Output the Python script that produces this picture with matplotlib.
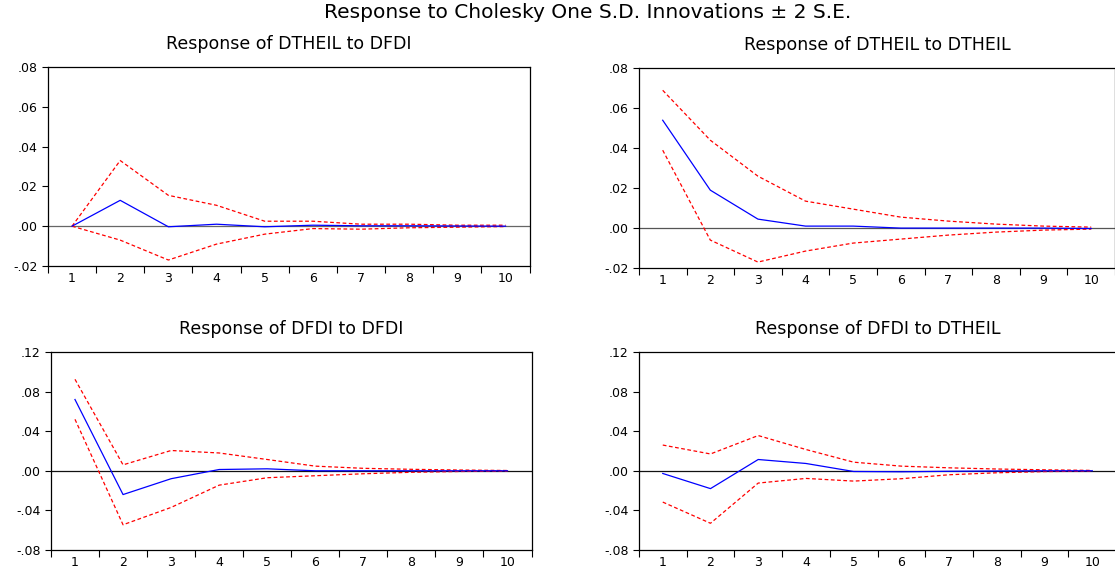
import matplotlib.pyplot as plt
import numpy as np

plt.rcParams['font.family'] = ['DejaVu Sans']

periods = np.arange(1, 11)

# Response of DTHEIL to DFDI
r1 = [0.0, 0.013, -0.0003, 0.001, -0.0003, 0.0005, 0.0002, 0.0002, 0.0001, 0.0]
u1 = [0.0, 0.033, 0.0155, 0.0105, 0.0025, 0.0025, 0.001, 0.001, 0.0005, 0.0005]
l1 = [0.0, -0.007, -0.017, -0.009, -0.004, -0.0012, -0.0015, -0.0008, -0.0005, -0.0002]

# Response of DTHEIL to DTHEIL
r2 = [0.054, 0.019, 0.0045, 0.001, 0.001, 0.0, 0.0, 0.0, 0.0, -0.0002]
u2 = [0.069, 0.044, 0.026, 0.0135, 0.0095, 0.0055, 0.0035, 0.002, 0.001, 0.0005]
l2 = [0.039, -0.006, -0.017, -0.0115, -0.0075, -0.0055, -0.0035, -0.002, -0.001, -0.0005]

# Response of DFDI to DFDI
r3 = [0.072, -0.024, -0.008, 0.0013, 0.002, 0.0, 0.0, 0.0, 0.0, 0.0]
u3 = [0.0924, 0.006, 0.0205, 0.018, 0.0114, 0.0047, 0.0025, 0.0015, 0.0008, 0.0003]
l3 = [0.052, -0.0545, -0.037, -0.0145, -0.007, -0.005, -0.003, -0.0015, -0.0007, -0.0003]

# Response of DFDI to DTHEIL
r4 = [-0.0027, -0.018, 0.0114, 0.0074, -0.0007, -0.001, -0.0005, -0.0002, 0.0, 0.0]
u4 = [0.026, 0.017, 0.0356, 0.0215, 0.0087, 0.0047, 0.003, 0.0018, 0.001, 0.0004]
l4 = [-0.0316, -0.053, -0.0124, -0.0077, -0.0104, -0.008, -0.004, -0.002, -0.0008, -0.0003]

titles = ['Response of DTHEIL to DFDI', 'Response of DTHEIL to DTHEIL',
          'Response of DFDI to DFDI', 'Response of DFDI to DTHEIL']
resp = [r1, r2, r3, r4]
upper = [u1, u2, u3, u4]
lower = [l1, l2, l3, l4]
yticks_top = [-0.02, 0.0, 0.02, 0.04, 0.06, 0.08]
yticks_bot = [-0.08, -0.04, 0.0, 0.04, 0.08, 0.12]
yticks = [yticks_top, yticks_top, yticks_bot, yticks_bot]
zero_colors = ['#666666', '#555555', '#111111', '#111111']

positions = [[0.043, 0.5366, 0.432, 0.3467],
             [0.573, 0.533, 0.427, 0.348],
             [0.0457, 0.0418, 0.431, 0.345],
             [0.573, 0.0418, 0.428, 0.345]]

def fmt(v):
    s = '%.2f' % v
    return s.replace('0.', '.', 1)

fig = plt.figure(figsize=(11.15, 5.74), dpi=100)
fig.text(0.527, 0.979, 'Response to Cholesky One S.D. Innovations \u00b1 2 S.E.',
         ha='center', va='center', fontsize=14.5)

for i in range(4):
    ax = fig.add_axes(positions[i])
    ax.axhline(0, color=zero_colors[i], lw=0.9)
    ax.plot(periods, upper[i], color='red', lw=0.9, ls=(0, (3, 2)))
    ax.plot(periods, lower[i], color='red', lw=0.9, ls=(0, (3, 2)))
    ax.plot(periods, resp[i], color='blue', lw=0.9)
    ax.set_xlim(0.5, 10.5)
    ax.set_ylim(yticks[i][0], yticks[i][-1])
    ax.set_yticks(yticks[i])
    ax.set_yticklabels([fmt(v) for v in yticks[i]], fontsize=9)
    # tick marks at the boundaries, labels at the centres
    ax.set_xticks(np.arange(0.5, 10.6, 1.0))
    ax.set_xticklabels([])
    ax.set_xticks(periods, minor=True)
    ax.set_xticklabels([str(p) for p in periods], minor=True, fontsize=9)
    ax.tick_params(axis='x', which='minor', length=0, pad=4)
    ax.tick_params(axis='x', which='major', length=5, direction='out')
    ax.tick_params(axis='y', length=4, direction='out')
    for s in ax.spines.values():
        s.set_linewidth(0.9)
    ax.set_title(titles[i], fontsize=12.5, pad=13)

plt.savefig('out.png', dpi=100)
